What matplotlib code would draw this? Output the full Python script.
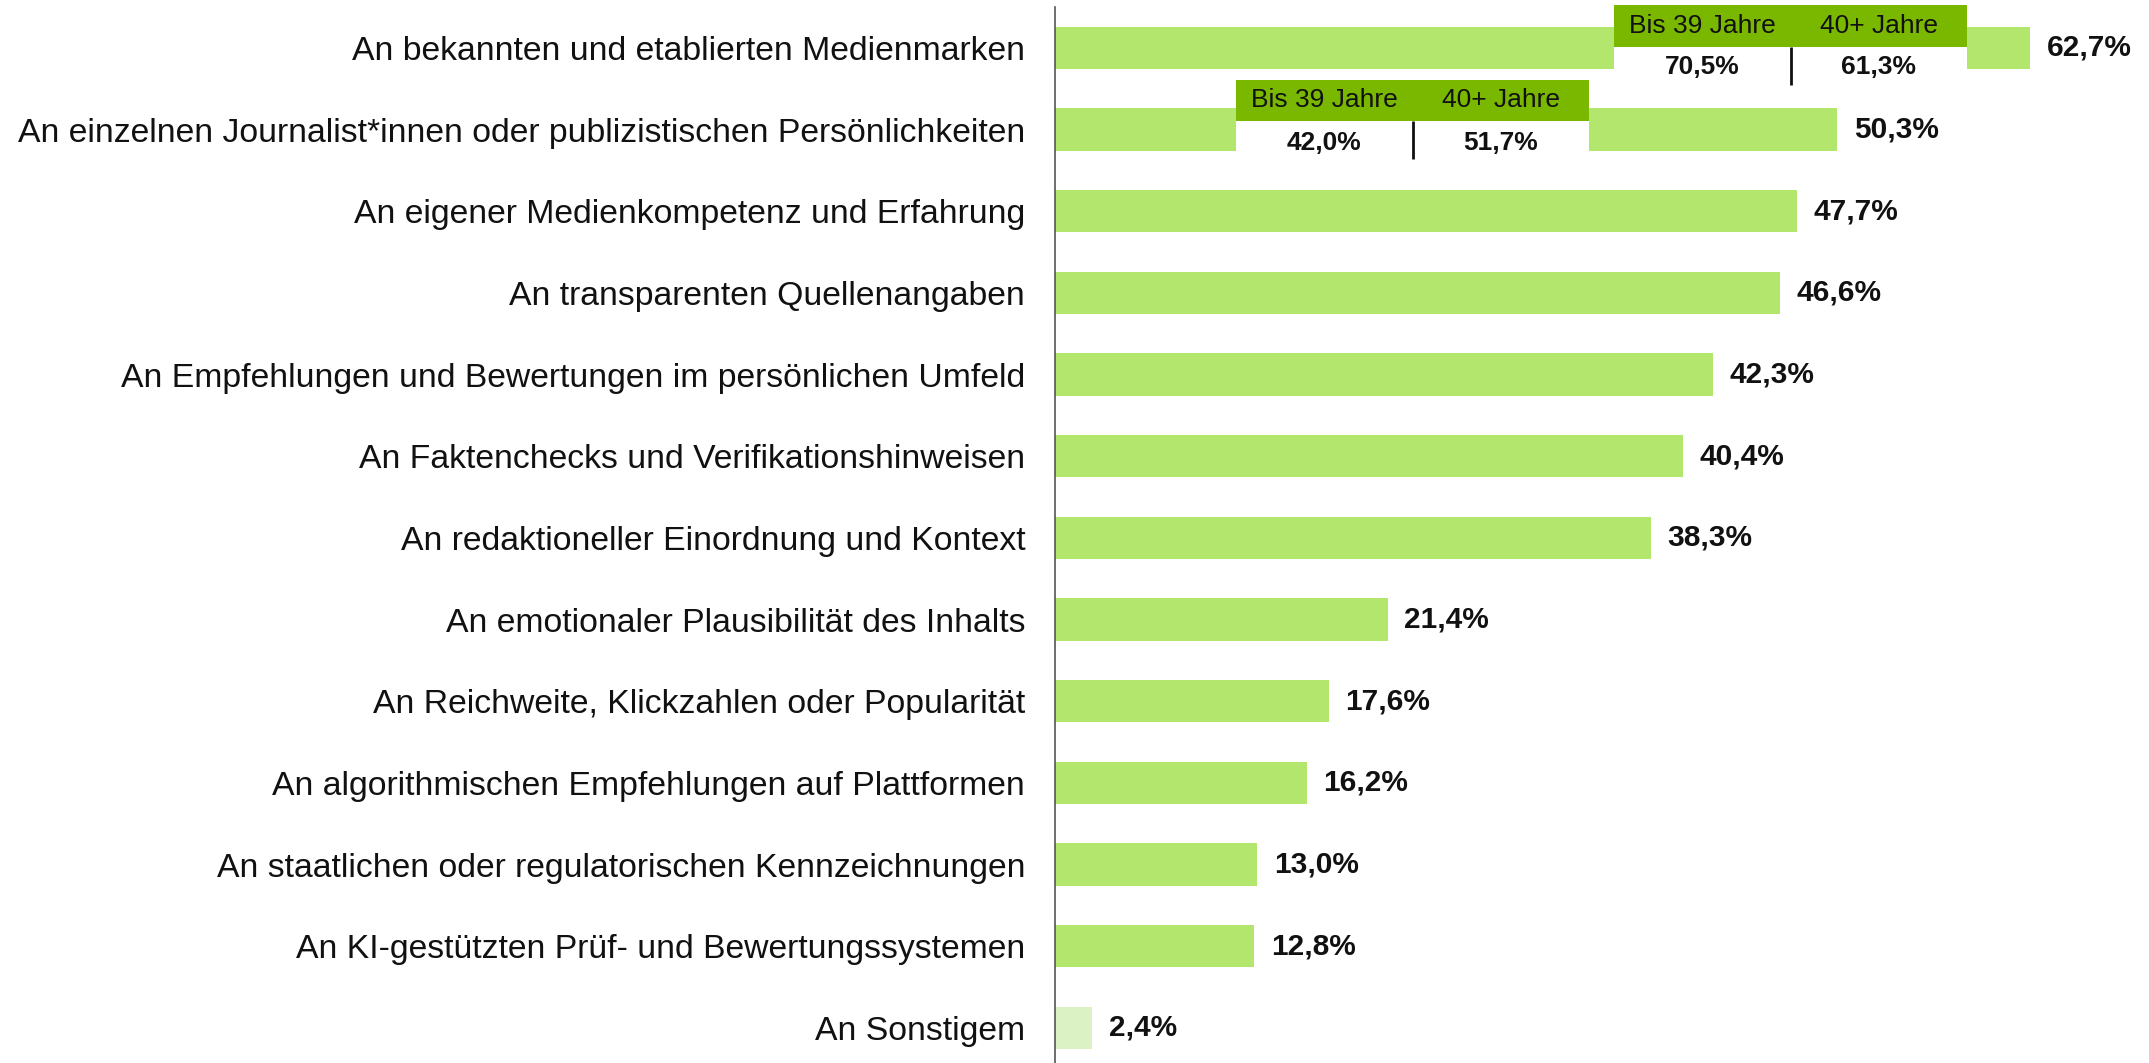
import matplotlib.pyplot as plt
from matplotlib.patches import Rectangle

plt.rcParams['font.family'] = ['Liberation Sans', 'DejaVu Sans']

labels = [
    'An bekannten und etablierten Medienmarken',
    'An einzelnen Journalist*innen oder publizistischen Persönlichkeiten',
    'An eigener Medienkompetenz und Erfahrung',
    'An transparenten Quellenangaben',
    'An Empfehlungen und Bewertungen im persönlichen Umfeld',
    'An Faktenchecks und Verifikationshinweisen',
    'An redaktioneller Einordnung und Kontext',
    'An emotionaler Plausibilität des Inhalts',
    'An Reichweite, Klickzahlen oder Popularität',
    'An algorithmischen Empfehlungen auf Plattformen',
    'An staatlichen oder regulatorischen Kennzeichnungen',
    'An KI-gestützten Prüf- und Bewertungssystemen',
    'An Sonstigem',
]
values = [62.7, 50.3, 47.7, 46.6, 42.3, 40.4, 38.3, 21.4, 17.6, 16.2, 13.0, 12.8, 2.4]

# age breakdown shown in the boxes on the first two rows
group_labels = ['Bis 39 Jahre', '40+ Jahre']
split_rows = [0, 1]
split_values = [[70.5, 61.3], [42.0, 51.7]]

bar_color = '#b3e66c'
other_color = '#dbf3c4'
head_color = '#7ab800'


def fmt(v):
    return f'{v:.1f}'.replace('.', ',') + '%'


W, H = 2149, 1063
fig = plt.figure(figsize=(W / 100, H / 100), dpi=100)
ax_left = 1055 / W
ax = fig.add_axes([ax_left, 0, 1 - ax_left, 1 - 7 / H])

ypos = list(range(len(labels)))
colors = [bar_color] * (len(labels) - 1) + [other_color]
ax.barh(ypos, values, height=0.52, color=colors, zorder=2)

ax.set_xlim(0, 70.35)
ax.set_ylim(12.43, -0.5)
ax.set_yticks(ypos)
ax.set_yticklabels(labels, fontsize=24.3, color='#111111')
ax.tick_params(axis='y', length=0, pad=21.5)
ax.set_xticks([])
for s in ['top', 'right', 'bottom']:
    ax.spines[s].set_visible(False)
ax.spines['left'].set_color('#555555')
ax.spines['left'].set_linewidth(1.2)

for y, v in zip(ypos, values):
    ax.annotate(fmt(v), (v, y), xytext=(12, 0), textcoords='offset points',
                va='center', ha='left', fontsize=21.5, fontweight='bold',
                color='#111111')

# box layout: left edge, header top, header bottom, divider bottom,
# value text centre (row units)
box_left = [35.95, 11.65]
box_width = 22.7
box_top = [-0.527, -0.608]
box_mid = [-0.012, -0.105]
box_low = [0.45, 0.36]
val_y = [0.24, 0.17]
bar_half = 0.26

for i, row in enumerate(split_rows):
    x0 = box_left[i]
    top = row + box_top[i]
    mid = row + box_mid[i]
    low = row + box_low[i]
    # white gap in the bar
    ax.add_patch(Rectangle((x0, mid), box_width, row + bar_half + 0.01 - mid,
                           facecolor='white', edgecolor='none', zorder=3))
    ax.add_patch(Rectangle((x0, top), box_width, mid - top,
                           facecolor=head_color, edgecolor='none', zorder=4,
                           clip_on=False))
    xc = x0 + box_width / 2
    ax.plot([xc, xc], [mid, low], color='#111111', lw=2, zorder=5,
            solid_capstyle='butt')
    for j, (g, v) in enumerate(zip(group_labels, split_values[i])):
        tx = x0 + box_width * (0.25 + 0.5 * j)
        ax.text(tx, (top + mid) / 2, g, ha='center', va='center',
                fontsize=19, color='#111111', zorder=6, clip_on=False)
        ax.text(tx, row + val_y[i], fmt(v), ha='center', va='center',
                fontsize=19, fontweight='bold', color='#111111', zorder=6)

fig.savefig('out.png', dpi=100)
